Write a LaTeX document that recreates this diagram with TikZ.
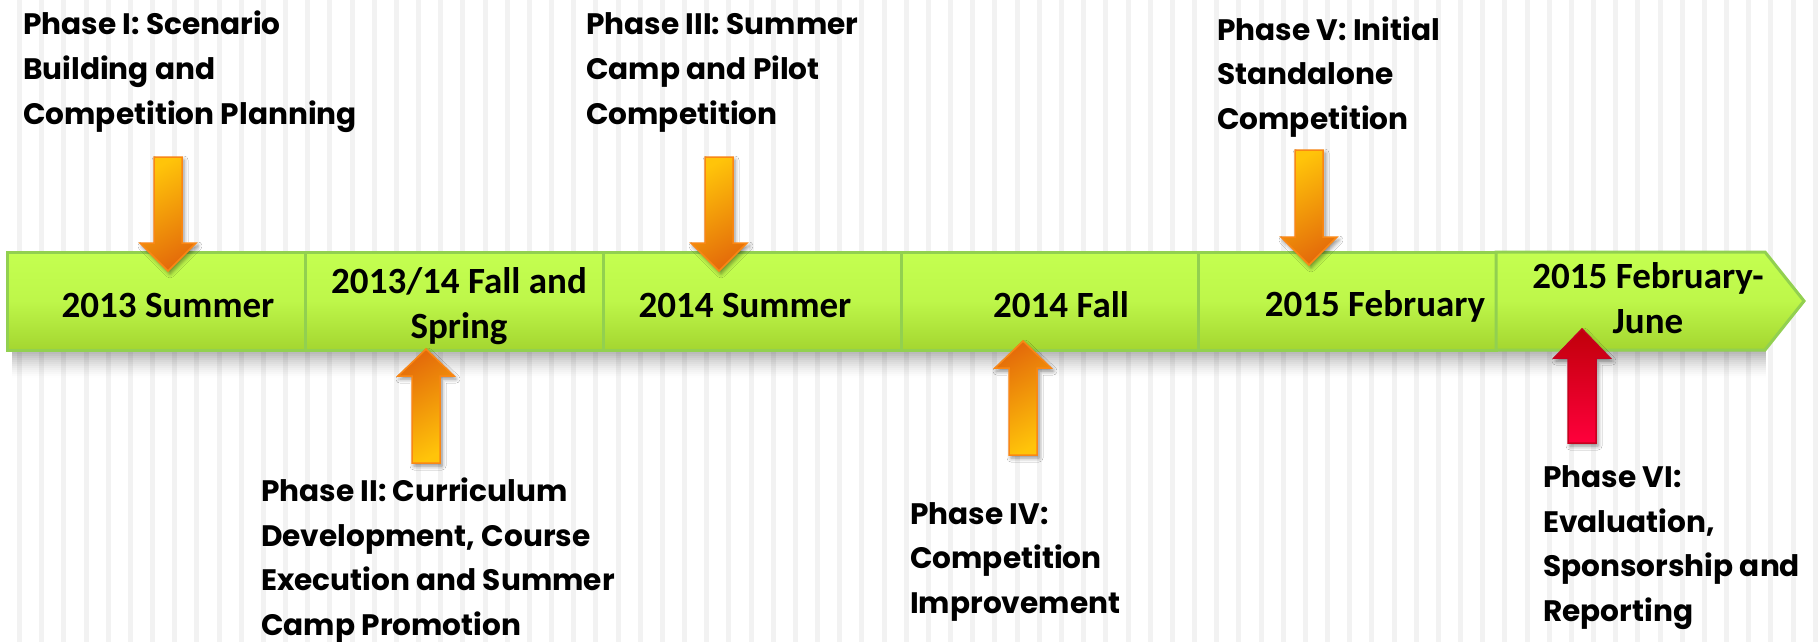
\documentclass[tikz,border=0pt]{standalone}
\usepackage{fontspec}
\newfontfamily\phasefont{Poppins}
\newfontfamily\barfont{Carlito}
\usetikzlibrary{shadows.blur}
\definecolor{stripecol}{RGB}{242,242,242}
\definecolor{barT}{RGB}{196,255,80}
\definecolor{barB}{RGB}{164,214,48}
\definecolor{barE}{RGB}{146,208,80}
\definecolor{arrY}{RGB}{255,196,10}
\definecolor{arrO}{RGB}{228,108,10}
\definecolor{arrE}{RGB}{250,135,20}
\definecolor{redT}{RGB}{192,0,10}
\definecolor{redB}{RGB}{255,0,60}
\definecolor{redE}{RGB}{200,0,30}
\tikzset{
 barseg/.style={top color=barT, bottom color=barB, middle color=barT!80!barB, draw=barE, line width=3pt},
 barlbl/.style={font=\barfont\bfseries\fontsize{37}{45}\selectfont, align=center, anchor=base, inner sep=0pt},
 phaselbl/.style={font=\phasefont\bfseries\fontsize{29.6}{44.5}\selectfont, align=left, anchor=base west, inner sep=0pt},
 arrshadow/.style={blur shadow={shadow xshift=2pt, shadow yshift=-3pt, shadow blur radius=4pt, shadow opacity=45}},
 orangedown/.style={arrshadow, top color=arrY, bottom color=arrO, shading angle=30, draw=arrE, line width=1.5pt},
 orangeup/.style={arrshadow, top color=arrO, bottom color=arrY, shading angle=30, draw=arrE, line width=1.5pt},
 redup/.style={arrshadow, top color=redT, bottom color=redB, draw=redE, line width=1.5pt},
}
% #1 style, #2 centre x, #3 shaft end y, #4 head base y, #5 tip y
\newcommand\BlockArrow[5]{%
 \path[#1] ({#2-14},#3) -- ({#2+14},#3) -- ({#2+14},#4) -- ({#2+28},#4) -- (#2,#5) -- ({#2-28},#4) -- ({#2-14},#4) -- cycle;}
\begin{document}
\begin{tikzpicture}[x=1pt,y=-1pt]
\useasboundingbox (0,0) rectangle (1819,642);
\fill[white] (0,0) rectangle (1819,642);
% background stripes
\foreach \i in {0,...,81}{\fill[stripecol] ({17+22.17*\i},0) rectangle ++(5,642);}
% shadow under bar
\foreach \k in {0,...,13}{\pgfmathsetmacro\op{0.30*(1-\k/14)^1.5}
 \fill[black, fill opacity=\op] (12,{350+2*\k}) rectangle (1766,{352+2*\k});}
% bar segments
\path[barseg] (7,252) rectangle (305,350);
\path[barseg] (305,252) rectangle (603,350);
\path[barseg] (603,252) rectangle (901,350);
\path[barseg] (901,252) rectangle (1198,350);
\path[barseg] (1198,252) rectangle (1496,350);
\path[barseg] (1496,252) -- (1765,252) -- (1804,301) -- (1765,350) -- (1496,350) -- cycle;
% bar labels (anchor = baseline of last line)
\node[barlbl] (s1) at (168,317) {2013 Summer};
\node[barlbl] (s2) at (459,338) {2013/14 Fall and\\Spring};
\node[barlbl] (s3) at (745,317) {2014 Summer};
\node[barlbl] (s4) at (1061,317) {2014 Fall};
\node[barlbl] (s5) at (1375,316) {2015 February};
\node[barlbl] (s6) at (1648,333) {2015 February-\\June};
% arrows
\BlockArrow{orangedown}{168}{157}{243}{271}
\BlockArrow{orangedown}{719}{157}{243}{271}
\BlockArrow{orangedown}{1309}{150}{237}{265}
\BlockArrow{orangeup}{426}{463}{376}{349}
\BlockArrow{orangeup}{1023}{455}{368}{341}
\BlockArrow{redup}{1582}{443}{358}{329}
% phase labels (anchor = baseline of last line)
\node[phaselbl] (p1) at (23,124) {Phase I: Scenario\\Building and\\Competition Planning};
\node[phaselbl] (p3) at (586,124) {Phase III: Summer\\Camp and Pilot\\Competition};
\node[phaselbl] (p5) at (1217,129) {Phase V: Initial\\Standalone\\Competition};
\node[phaselbl] (p2) at (261,635) {Phase II: Curriculum\\Development, Course\\Execution and Summer\\Camp Promotion};
\node[phaselbl] (p4) at (910,613) {Phase IV:\\Competition\\Improvement};
\node[phaselbl] (p6) at (1543,621) {Phase VI:\\Evaluation,\\Sponsorship and\\Reporting};
\end{tikzpicture}
\end{document}
